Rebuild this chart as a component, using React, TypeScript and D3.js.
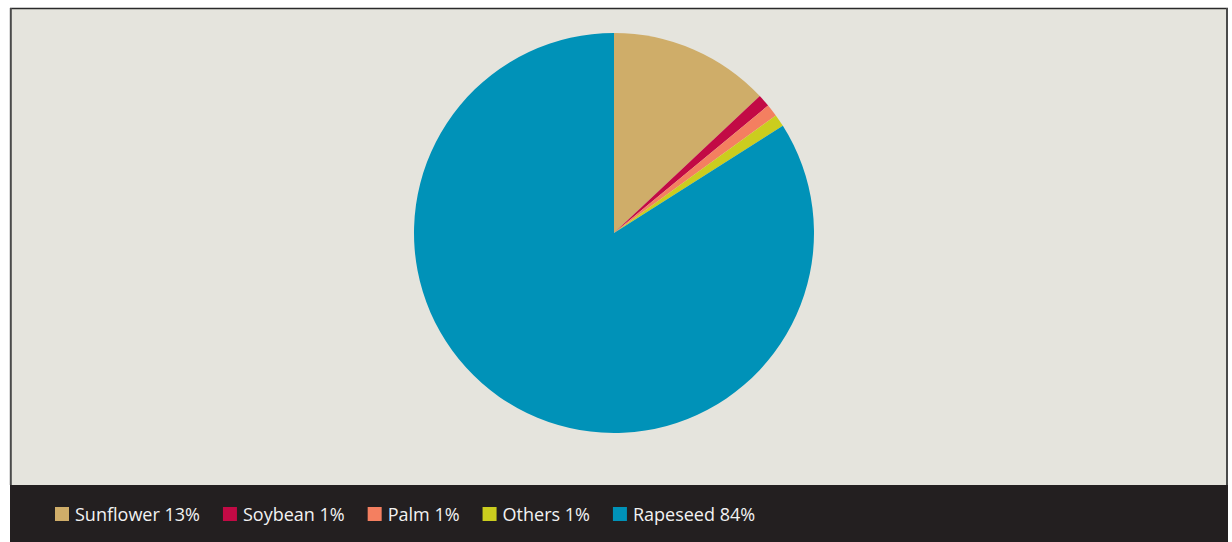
import React, { useEffect, useRef } from "react";
import * as d3 from "d3";

const categories = ["Sunflower", "Soybean", "Palm", "Others", "Rapeseed"];
const shares = [13, 1, 1, 1, 84];
const colors = ["#CFAD69", "#C20A45", "#F47F60", "#CBCD1E", "#0092B8"];

const W = 1232;
const H = 542;

export default function App() {
  const ref = useRef<SVGSVGElement | null>(null);

  useEffect(() => {
    const svg = d3.select(ref.current);
    svg.selectAll("*").remove();

    // frame
    svg.append("rect").attr("x", 11).attr("y", 9).attr("width", 1216).attr("height", H - 9).attr("fill", "#E5E4DD");
    svg.append("line").attr("x1", 10).attr("x2", 1228).attr("y1", 8.5).attr("y2", 8.5).attr("stroke", "#2a2a2a").attr("stroke-width", 1.5);
    svg.append("line").attr("x1", 10.8).attr("x2", 10.8).attr("y1", 8).attr("y2", 485).attr("stroke", "#4a4a4a").attr("stroke-width", 2);
    svg.append("line").attr("x1", 1227).attr("x2", 1227).attr("y1", 8).attr("y2", 485).attr("stroke", "#4a4a4a").attr("stroke-width", 2);

    // pie
    const cx = 614, cy = 233, r = 200;
    const data = categories.map((c, i) => ({ name: c, value: shares[i], color: colors[i] }));
    const pie = d3.pie<any>().value((d) => d.value).sort(null);
    const arc = d3.arc<any>().innerRadius(0).outerRadius(r);
    const g = svg.append("g").attr("transform", `translate(${cx},${cy})`);
    g.selectAll("path")
      .data(pie(data))
      .join("path")
      .attr("d", arc)
      .attr("fill", (d: any) => d.data.color);

    // footer legend
    svg.append("rect").attr("x", 10).attr("y", 485).attr("width", 1218).attr("height", H - 485).attr("fill", "#231F20");
    let x = 55;
    const lg = svg.append("g");
    data.forEach((d) => {
      lg.append("rect").attr("x", x).attr("y", 507).attr("width", 14).attr("height", 14).attr("fill", d.color);
      const t = lg
        .append("text")
        .attr("x", x + 20)
        .attr("y", 521)
        .attr("fill", "#F2F2F2")
        .attr("font-family", "'Open Sans', sans-serif")
        .attr("font-size", 18)
        .text(`${d.name} ${d.value}%`);
      const w = (t.node() as SVGTextElement).getComputedTextLength();
      x = x + 20 + w + 23;
    });
  }, []);

  return (
    <svg
      ref={ref}
      width={W}
      height={H}
      style={{ position: "absolute", left: 0, top: 0, display: "block" }}
    />
  );
}
